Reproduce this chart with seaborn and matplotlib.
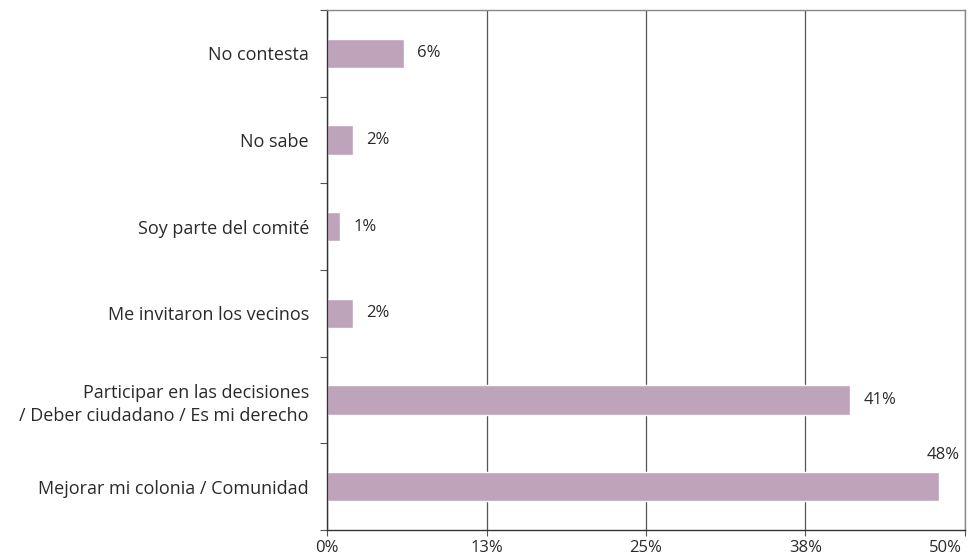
import numpy as np
import pandas as pd
import seaborn as sns
import matplotlib.pyplot as plt
import matplotlib.transforms as mtransforms
from matplotlib.ticker import FixedLocator

categories = ["No contesta", "No sabe", "Soy parte del comité", "Me invitaron los vecinos",
              "Participar en las decisiones\n/ Deber ciudadano / Es mi derecho",
              "Mejorar mi colonia / Comunidad"]
values = [6, 2, 1, 2, 41, 48]
labels = ["6%", "2%", "1%", "2%", "41%", "48%"]
xticks = [0, 12.5, 25, 37.5, 50]
xticklabels = ["0%", "13%", "25%", "38%", "50%"]

sns.set_style("white")
plt.rcParams['font.family'] = ['Open Sans', 'DejaVu Sans']
text_color = "#2a2a2a"

df = pd.DataFrame({"cat": categories, "val": values})

fig = plt.figure(figsize=(9.71, 5.59), dpi=100)
ax = fig.add_axes([0.3368, 0.052, 0.657, 0.930])
sns.barplot(data=df, x="val", y="cat", order=categories, color="#BFA3BB",
            saturation=1, width=0.34, ax=ax)

ax.set_xlim(0, 50)
ax.set_ylim(5.5, -0.5)
ax.set_xticks(xticks)
ax.set_xticklabels(xticklabels, fontsize=12, color=text_color)
ax.set_xlabel("")
ax.set_ylabel("")
ax.tick_params(axis="y", which="major", left=False, length=0, labelsize=13,
               labelcolor=text_color, pad=13)
for t in ax.get_yticklabels():
    t.set_linespacing(1.35)
ax.yaxis.set_minor_locator(FixedLocator(np.arange(-0.5, 6, 1)))
ax.tick_params(axis="y", which="minor", left=True, length=5, width=0.8, color="#555555")
ax.tick_params(axis="x", bottom=True, length=4, width=0.8, color="#555555", pad=3)
ax.xaxis.grid(True, color="#555555", linewidth=0.9)
ax.set_axisbelow(True)

# last tick label sits inside the figure like the reference
last = ax.get_xticklabels()[-1]
last.set_transform(last.get_transform() + mtransforms.ScaledTranslation(-0.2, 0, fig.dpi_scale_trans))

for s in ["top", "right"]:
    ax.spines[s].set_color("#888888")
    ax.spines[s].set_linewidth(1.0)
for s in ["left", "bottom"]:
    ax.spines[s].set_color("#333333")
    ax.spines[s].set_linewidth(1.0)

for i, (v, lab) in enumerate(zip(values, labels)):
    if v > 45:
        ax.annotate(lab, (v, i), xytext=(3, 17), textcoords="offset points",
                    ha="center", va="bottom", fontsize=12, color=text_color)
    else:
        ax.annotate(lab, (v, i), xytext=(10, 0), textcoords="offset points",
                    ha="left", va="center", fontsize=12, color=text_color)

fig.savefig("out.png", dpi=100)
